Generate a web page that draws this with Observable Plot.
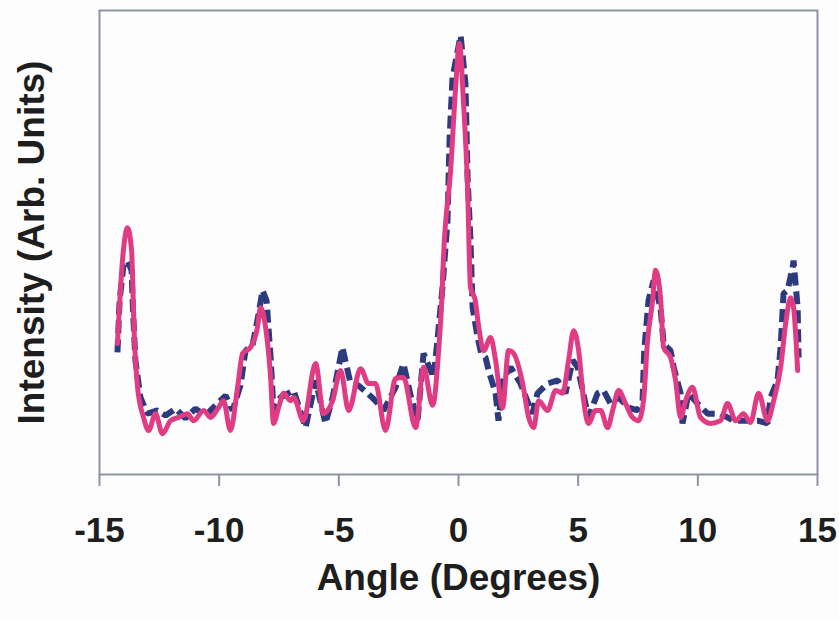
<!DOCTYPE html>
<html>
<head>
<meta charset="utf-8">
<script src="https://cdn.jsdelivr.net/npm/d3@7"></script>
<script src="https://cdn.jsdelivr.net/npm/@observablehq/plot@0.6"></script>
<style>
  html, body { margin: 0; padding: 0; background: #fdfdfd; }
  #chart { width: 839px; height: 621px; }
</style>
</head>
<body>
<div id="chart"></div>
<script>
// Angle (degrees) and intensity (arb. units, 0–100)
const magentaAngle = [-14.25,-14.04,-13.83,-13.66,-13.55,-13.41,-13.16,-12.95,-12.66,-12.37,-12.03,-11.70,-11.32,-11.07,-10.65,-10.36,-10.03,-9.82,-9.53,-9.23,-9.02,-8.69,-8.40,-8.27,-8.06,-7.85,-7.73,-7.52,-7.31,-7.02,-6.89,-6.48,-5.97,-5.64,-5.26,-4.93,-4.59,-4.09,-3.76,-3.47,-3.05,-2.63,-2.30,-1.79,-1.46,-1.08,-0.83,-0.70,-0.62,-0.33,-0.12,0.04,0.21,0.38,0.50,0.70,0.84,1.05,1.34,1.55,1.84,2.09,2.30,2.68,2.93,3.14,3.35,3.72,4.06,4.35,4.60,4.81,5.02,5.23,5.43,5.73,5.94,6.23,6.44,6.69,6.98,7.27,7.52,7.73,7.90,8.11,8.23,8.44,8.57,8.86,9.07,9.28,9.49,9.78,10.11,10.53,10.95,11.24,11.58,11.91,12.20,12.54,12.91,13.17,13.46,13.67,13.88,14.00,14.17];
const magentaIntensity = [28.2,46.1,53.2,48.3,30.4,18.8,12.3,9.5,13.1,8.8,11.6,12.3,13.1,11.6,13.8,12.3,14.4,15.9,9.5,18.8,26.1,27.4,31.7,36.0,31.7,20.9,11.0,14.4,17.5,15.9,16.6,11.6,23.9,13.1,15.9,22.4,13.8,22.8,19.6,19.6,9.5,20.7,20.9,10.1,23.1,14.9,26.7,37.5,47.6,65.5,83.4,92.9,80.0,61.9,40.3,37.5,32.0,26.7,29.5,24.6,14.4,26.7,26.1,19.6,12.3,10.1,15.9,13.8,18.1,17.5,24.6,31.0,26.7,15.9,11.0,13.8,13.8,10.1,13.8,18.1,15.3,12.3,11.6,15.9,28.9,37.5,44.0,38.1,27.4,25.2,20.3,12.3,15.9,18.8,12.3,11.0,11.6,15.3,11.6,13.1,11.2,17.5,11.6,15.9,23.1,32.5,38.1,36.0,22.4];

const navyAngle = [-14.25,-14.16,-14.0,-13.83,-13.66,-13.60,-13.50,-13.29,-13.0,-12.58,-12.24,-11.82,-11.41,-10.99,-10.57,-10.15,-9.73,-9.44,-9.11,-8.90,-8.61,-8.40,-8.19,-8.02,-7.85,-7.73,-7.44,-6.89,-6.39,-5.97,-5.56,-5.26,-4.85,-4.51,-4.18,-3.80,-3.47,-3.13,-2.63,-2.30,-2.0,-1.71,-1.46,-1.04,-0.88,-0.67,-0.46,-0.37,-0.25,0.09,0.29,0.38,0.50,0.59,0.80,0.95,1.13,1.26,1.55,1.67,1.88,2.18,2.59,3.09,3.30,3.72,4.14,4.47,4.77,4.98,5.43,5.81,6.06,6.35,6.69,7.11,7.48,7.69,7.76,7.94,8.15,8.44,8.57,8.86,8.99,9.28,9.36,9.61,9.99,10.41,10.95,11.49,12.08,12.50,12.91,13.04,13.33,13.46,13.58,13.75,13.96,14.00,14.17,14.21];
const navyIntensity = [26.3,37.5,45.0,46.1,44.0,35.3,24.6,16.6,13.1,13.8,12.7,14.2,12.1,14.2,12.7,14.9,17.0,13.8,19.2,26.7,27.8,33.2,39.7,37.5,25.2,13.8,16.6,18.1,10.1,20.3,11.0,16.6,27.4,19.6,19.2,17.5,15.9,13.8,18.8,23.9,17.0,11.6,26.1,20.9,28.9,40.3,54.7,72.6,85.6,94.6,84.3,64.0,50.4,36.0,29.5,26.1,25.2,22.4,17.5,11.6,20.9,23.1,19.6,13.1,17.5,19.6,20.3,17.5,24.6,23.1,12.3,17.5,18.1,15.3,16.6,14.4,13.8,15.9,26.7,37.5,41.8,36.0,28.2,26.7,23.1,17.5,11.0,17.5,15.3,13.1,13.1,11.6,11.6,11.6,11.0,16.6,20.3,27.4,39.0,39.7,44.6,46.1,36.0,25.2];

const xTicks = [-15, -10, -5, 0, 5, 10, 15];
const xLabel = "Angle (Degrees)";
const yLabel = "Intensity (Arb. Units)";

const magenta = magentaAngle.map((a, i) => ({angle: a, intensity: magentaIntensity[i]}));
const navy = navyAngle.map((a, i) => ({angle: a, intensity: navyIntensity[i]}));

const frameColor = "#8c93a3";
const textColor = "#1e1e1e";
const font = "'Liberation Sans', Arial, sans-serif";

const chart = Plot.plot({
  width: 839,
  height: 621,
  marginTop: 10,
  marginRight: 22,
  marginBottom: 147,
  marginLeft: 99,
  style: {background: "transparent", fontFamily: font, color: textColor},
  x: {domain: [-15, 15]},
  y: {domain: [0, 100]},
  marks: [
    Plot.frame({stroke: frameColor, strokeWidth: 2}),
    Plot.axisX({
      ticks: xTicks,
      tickFormat: d => String(d),
      tickSize: 12,
      tickPadding: 31,
      stroke: frameColor,
      strokeWidth: 2,
      strokeOpacity: 1,
      fontSize: 35,
      fontWeight: "bold",
      fill: textColor,
      label: null
    }),
    Plot.axisY({ticks: [], label: null}),
    Plot.line(navy, {
      x: "angle", y: "intensity",
      stroke: "#2c3b7e", strokeWidth: 6,
      strokeDasharray: "13,6",
      strokeLinecap: "butt",
      strokeLinejoin: "miter",
      curve: "linear"
    }),
    Plot.line(magenta, {
      x: "angle", y: "intensity",
      stroke: "#e03c83", strokeWidth: 5,
      curve: "monotone-x"
    }),
    Plot.text([xLabel], {
      frameAnchor: "bottom", dy: 104,
      text: d => d, fontSize: 37, fontWeight: "bold",
      fill: textColor, lineAnchor: "middle"
    }),
    Plot.text([yLabel], {
      frameAnchor: "left", dx: -67.5, rotate: -90,
      text: d => d, fontSize: 37, fontWeight: "bold",
      fill: textColor, lineAnchor: "middle", textAnchor: "middle"
    })
  ]
});
document.getElementById("chart").appendChild(chart);
</script>
</body>
</html>
